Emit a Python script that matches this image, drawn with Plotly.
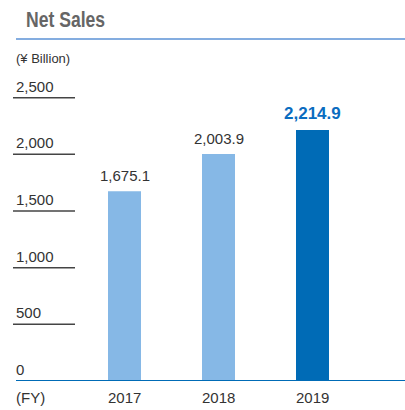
import plotly.graph_objects as go

years = ["2017", "2018", "2019"]
sales = [1675.1, 2003.9, 2214.9]
value_labels = ["1,675.1", "2,003.9", "2,214.9"]
tick_vals = [0, 500, 1000, 1500, 2000, 2500]
tick_text = ["0", "500", "1,000", "1,500", "2,000", "2,500"]

bar_colors = ["#86b8e6", "#86b8e6", "#006bb6"]
label_colors = ["#333333", "#333333", "#0a6cc0"]
label_bold = [False, False, True]

W, H = 405, 410
x_pos = list(range(len(years)))

fig = go.Figure()
fig.add_trace(go.Bar(
    x=x_pos, y=sales, width=0.351,
    marker=dict(color=bar_colors, line=dict(width=0)),
    hoverinfo="skip",
))

font_family = "Liberation Sans, Arial, Helvetica, sans-serif"
annotations = []
for xi, v, t, c, b in zip(x_pos, sales, value_labels, label_colors, label_bold):
    annotations.append(dict(
        x=xi, y=v, xref="x", yref="y", text=f"<b>{t}</b>" if b else t,
        showarrow=False, yanchor="bottom", yshift=5,
        font=dict(family=font_family, size=17 if b else 15, color=c),
    ))
for xi, yl in zip(x_pos, years):
    annotations.append(dict(
        x=xi, y=0, xref="x", yref="y", text=yl, showarrow=False,
        yanchor="top", yshift=-6,
        font=dict(family=font_family, size=15, color="#333333"),
    ))
annotations.append(dict(
    x=16 / W, y=0, xref="paper", yref="y", text="(FY)", showarrow=False,
    xanchor="left", yanchor="top", yshift=-6, xshift=-2,
    font=dict(family=font_family, size=15, color="#333333"),
))
shapes = []
for tv, tt in zip(tick_vals, tick_text):
    annotations.append(dict(
        x=16 / W, y=tv, xref="paper", yref="y", text=tt, showarrow=False,
        xanchor="left", yanchor="bottom", yshift=1, xshift=-2,
        font=dict(family=font_family, size=15, color="#333333"),
    ))
    if tv > 0:
        shapes.append(dict(
            type="line", xref="paper", yref="y", x0=13 / W, x1=75 / W,
            y0=tv, y1=tv, line=dict(color="#444444", width=1.5),
        ))
# axis line
shapes.append(dict(type="line", xref="paper", yref="y", x0=16 / W, x1=1,
                   y0=0, y1=0, line=dict(color="#006bb6", width=2)))
# title underline
ty = (H - 29 - 39) / (H - 29 - 41)
shapes.append(dict(type="line", xref="paper", yref="paper", x0=16 / W, x1=1,
                   y0=ty, y1=ty, line=dict(color="#5b92d6", width=1.5)))

annotations.append(dict(
    x=16 / W, y=1, xref="paper", yref="paper", text="(¥ Billion)",
    showarrow=False, xanchor="left", yanchor="middle",
    yshift=41 - 58, xshift=-2,
    font=dict(family=font_family, size=13, color="#333333"),
))
annotations.append(dict(
    x=16 / W, y=1, xref="paper", yref="paper", text="<b>Net Sales</b>",
    showarrow=False, xanchor="left", yanchor="middle",
    yshift=41 - 19, xshift=-2,
    font=dict(family=font_family, size=22, color="#666666"),
))

fig.update_layout(
    width=W, height=H,
    margin=dict(l=0, r=0, t=41, b=29),
    paper_bgcolor="white", plot_bgcolor="white",
    showlegend=False,
    xaxis=dict(range=[-124.5 / 94, 2 + 92.5 / 94], visible=False, fixedrange=True),
    yaxis=dict(range=[0, 3000], visible=False, fixedrange=True),
    annotations=annotations,
    shapes=shapes,
)

post = (
    "document.body.style.margin='0';document.body.style.overflow='hidden';"
    "var gd=document.getElementById('{plot_id}');"
    "gd.querySelectorAll('text.annotation-text').forEach(function(t){"
    "if(t.textContent.indexOf('Net Sales')>=0){"
    "t.setAttribute('textLength','79');t.setAttribute('lengthAdjust','spacingAndGlyphs');}});"
)
fig.write_html("out.html", config={"displayModeBar": False}, post_script=post)
